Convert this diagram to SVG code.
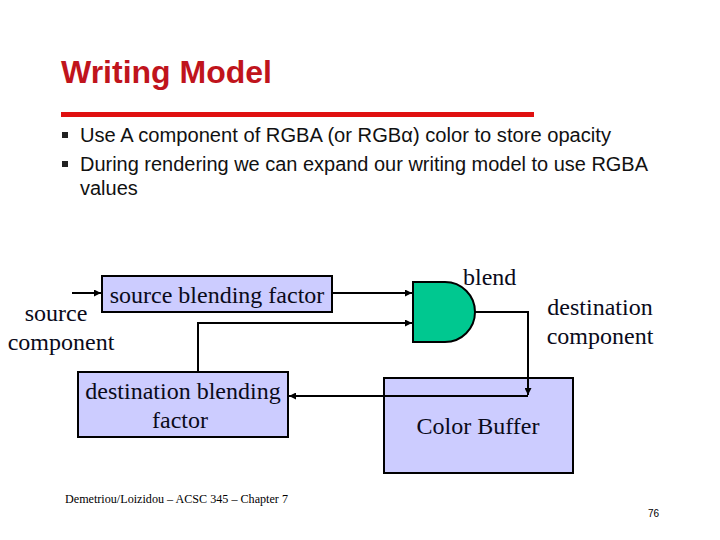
<svg xmlns="http://www.w3.org/2000/svg" width="720" height="540" viewBox="0 0 720 540">
<defs>
<style>
.d{font-family:"Liberation Serif","Times New Roman",serif;font-size:24px;fill:#0a0a1a}
.b{font-family:"Liberation Sans",Arial,sans-serif;font-size:20px;fill:#111}
.box{fill:#ccccff;stroke:#000;stroke-width:2}
.ln{fill:none;stroke:#000;stroke-width:2}
</style>
<marker id="ah" viewBox="0 0 10 10" refX="10" refY="5" markerWidth="3.5" markerHeight="3.5" orient="auto" markerUnits="strokeWidth">
<path d="M0,0 L10,5 L0,10 z" fill="#000"/>
</marker>
</defs>
<rect width="720" height="540" fill="#fff"/>
<text x="61" y="83" font-family="Liberation Sans,Arial,sans-serif" font-weight="bold" font-size="31" fill="#c0141c" textLength="211" lengthAdjust="spacingAndGlyphs">Writing Model</text>
<rect x="61" y="112" width="473" height="5" fill="#e01010"/>
<rect x="62" y="132" width="6" height="6" fill="#222"/>
<text class="b" x="80" y="142" textLength="531" lengthAdjust="spacingAndGlyphs">Use A component of RGBA (or RGBα) color to store opacity</text>
<rect x="62" y="161" width="6" height="6" fill="#222"/>
<text class="b" x="80" y="171" textLength="568" lengthAdjust="spacingAndGlyphs">During rendering we can expand our writing model to use RGBA</text>
<text class="b" x="80" y="195">values</text>
<g id="src-factor">
<rect class="box" x="102" y="276" width="230" height="36"/>
<text class="d" x="217" y="303" text-anchor="middle">source blending factor</text>
</g>
<g id="src-comp">
<text class="d" x="56" y="321" text-anchor="middle">source</text>
<text class="d" x="61" y="350" text-anchor="middle">component</text>
</g>
<g id="dst-factor">
<rect class="box" x="78" y="372" width="210" height="65"/>
<text class="d" x="183" y="399" text-anchor="middle">destination blending</text>
<text class="d" x="180" y="428" text-anchor="middle">factor</text>
</g>
<g id="blend">
<path d="M413,282 L445,282 A30,30 0 0 1 445,342 L413,342 Z" fill="#00c890" stroke="#000" stroke-width="2"/>
<text class="d" x="463" y="285">blend</text>
</g>
<g id="dst-comp">
<text class="d" x="600" y="315" text-anchor="middle">destination</text>
<text class="d" x="600" y="344" text-anchor="middle">component</text>
</g>
<g id="color-buffer">
<rect class="box" x="384" y="378" width="189" height="95"/>
<text class="d" x="478" y="434" text-anchor="middle">Color Buffer</text>
</g>
<g id="connectors">
<line class="ln" x1="72" y1="293" x2="101" y2="293" marker-end="url(#ah)"/>
<line class="ln" x1="332" y1="293" x2="412" y2="293" marker-end="url(#ah)"/>
<polyline class="ln" points="198,372 198,323 412,323" marker-end="url(#ah)"/>
<polyline class="ln" points="475,312 528,312 528,395" marker-end="url(#ah)"/>
<line class="ln" x1="528" y1="396" x2="289" y2="396" marker-end="url(#ah)"/>
</g>
<text x="65" y="503" font-family="Liberation Serif,serif" font-size="13" fill="#000" textLength="223" lengthAdjust="spacingAndGlyphs">Demetriou/Loizidou – ACSC 345 – Chapter 7</text>
<text x="648" y="517" font-family="Liberation Sans,Arial,sans-serif" font-size="10" fill="#000">76</text>
</svg>
